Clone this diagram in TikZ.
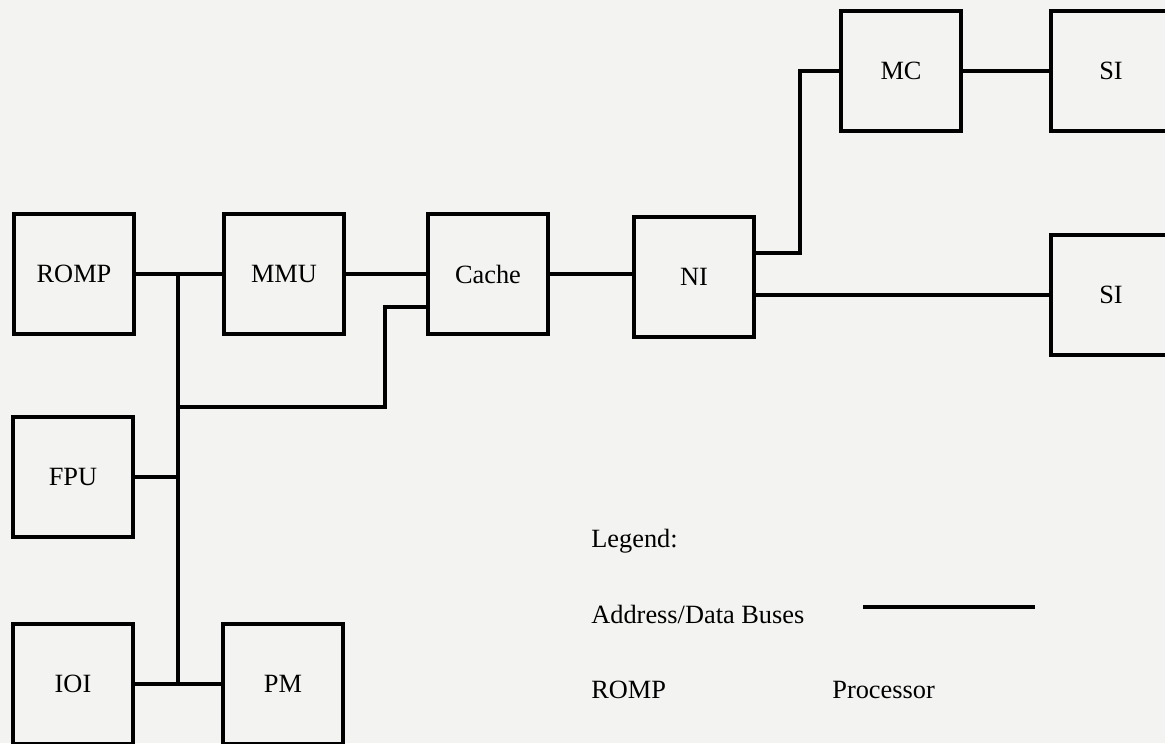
\documentclass[tikz,border=0pt]{standalone}
\usepackage{fontspec}
\setmainfont{Liberation Serif}
\usepackage{xcolor}
\usetikzlibrary{calc}
\definecolor{paper}{RGB}{243,243,241}
\tikzset{
  unitbox/.style={draw, line width=1.8pt, minimum width=2.4cm,
                  minimum height=2.4cm, inner sep=0pt,
                  font=\fontsize{15}{18}\selectfont},
  busline/.style={line width=1.8pt},
  legtext/.style={anchor=base west, inner sep=0pt,
                  font=\fontsize{15}{18}\selectfont},
}

\begin{document}
\begin{tikzpicture}[x=0.02cm,y=-0.02cm]
  \fill[paper] (0,0) rectangle (1165,743);
  \useasboundingbox (0,0) rectangle (1165,743);
  %% processor side
  \node[unitbox] (romp)  at (74,274)   {ROMP};
  \node[unitbox] (mmu)   at (284,274)  {MMU};
  \node[unitbox] (cache) at (488,274)  {Cache};
  \node[unitbox] (fpu)   at (73,477)   {FPU};
  \node[unitbox] (ioi)   at (73,684)   {IOI};
  \node[unitbox] (pm)    at (283,684)  {PM};
  %% network side
  \node[unitbox] (ni)    at (694,277)  {NI};
  \node[unitbox] (mc)    at (901,71)   {MC};
  \node[unitbox] (sia)   at (1111,71)  {SI};
  \node[unitbox] (sib)   at (1111,295) {SI};
  %% bus joints
  \coordinate (bus)  at (178,0);
  \coordinate (tap)  at (178,407);
  \coordinate (kink) at (385,307);
  \coordinate (up)   at (800,253);
  \draw[busline] (romp) -- (mmu);
  \draw[busline] (romp.east -| bus) -- (ioi.east -| bus);
  \draw[busline] (fpu.east) -- (fpu.east -| bus);
  \draw[busline] (ioi) -- (pm);
  \draw[busline] (tap) -| (kink) -- (kink -| cache.west);
  \draw[busline] (mmu) -- (cache);
  \draw[busline] (cache) -- (cache -| ni.west);
  \draw[busline] (up -| ni.east) -- (up) |- (mc.west);
  \draw[busline] (mc) -- (sia);
  \draw[busline] (sib.west -| ni.east) -- (sib.west);
  %% legend
  \node[legtext] (legend)  at (591,547) {Legend:};
  \node[legtext] (busname) at (591,623) {Address/Data Buses};
  \coordinate (keya) at (863,607);
  \coordinate (keyb) at (1035,607);
  \draw[busline] (keya) -- (keyb);
  \node[legtext] (keyromp) at (591,698) {ROMP};
  \node[legtext] (keyproc) at (832,698) {Processor};
\end{tikzpicture}
\end{document}
